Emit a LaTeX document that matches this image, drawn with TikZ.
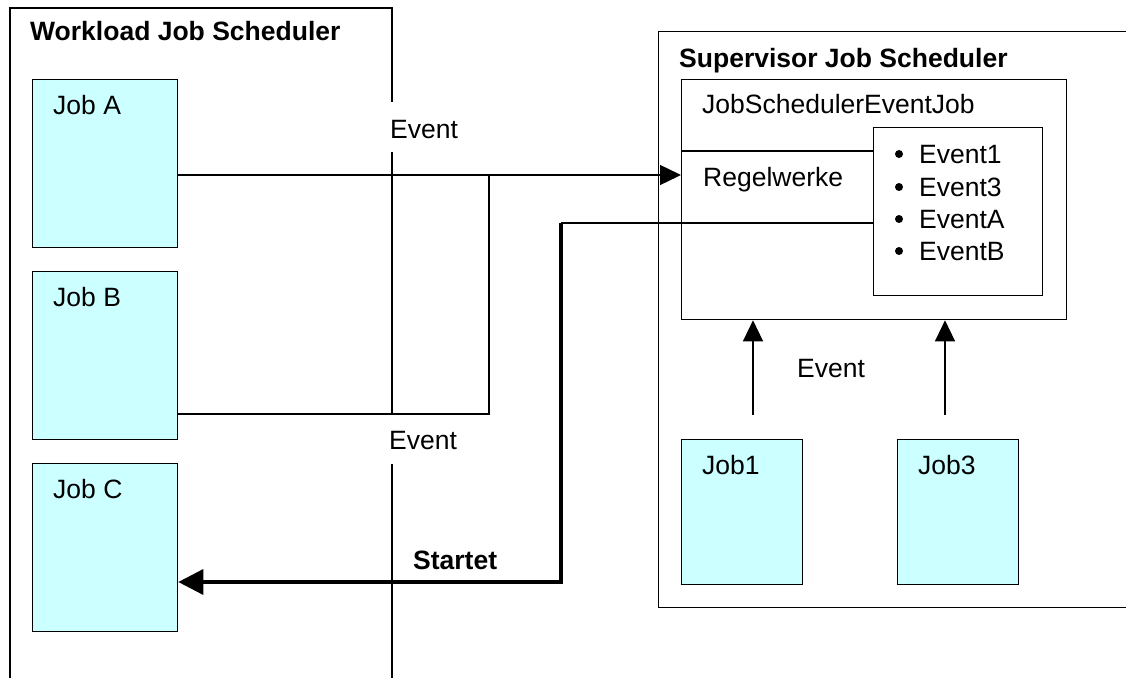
\documentclass[tikz,border=0pt]{standalone}
\usepackage{fontspec}
\setmainfont{Liberation Sans}
\usetikzlibrary{arrows.meta}
\definecolor{jobcyan}{RGB}{204,255,255}
\begin{document}
\begin{tikzpicture}[x=1pt,y=-1pt,
  every node/.style={font=\fontsize{26.5}{32}\selectfont},
  frame/.style={draw, line width=1.3pt, inner sep=0pt, anchor=north west},
  jobbox/.style={frame, fill=jobcyan},
  lbl/.style={anchor=base west, inner sep=0pt},
  heading/.style={lbl, font=\fontsize{26.5}{32}\selectfont\bfseries},
  wire/.style={line width=1.3pt},
  boldwire/.style={line width=3.5pt},
  tipsmall/.style={-{Triangle[length=21pt,width=20pt]}},
  tipbig/.style={-{Triangle[length=25pt,width=25pt]}}]

\useasboundingbox (0,0) rectangle (1126,677);
\clip (0,0) rectangle (1126,677);

% ---- Workload Job Scheduler (open at the bottom, split by the event labels)
\draw[wire] (10,690) -- (10,8) -- (392,8) -- (392,102);
\draw[wire] (392,152) -- (392,414);
\draw[wire] (392,464) -- (392,690);
\node[heading] (wtitle) at (30,41) {Workload Job Scheduler};

\node[jobbox, minimum width=145pt, minimum height=168pt] (jobA) at (32,79) {};
\node[jobbox, minimum width=145pt, minimum height=168pt] (jobB) at (32,271) {};
\node[jobbox, minimum width=145pt, minimum height=168pt] (jobC) at (32,463) {};
\node[lbl] (jobAl) at (53,114) {Job A};
\node[lbl] (jobBl) at (53,306) {Job B};
\node[lbl] (jobCl) at (53,498) {Job C};

\node[lbl] (evtop) at (390,138) {Event};
\node[lbl] (evbot) at (389,449) {Event};

% ---- Supervisor Job Scheduler
\node[frame, minimum width=480pt, minimum height=576pt] (sup) at (658,31) {};
\node[heading] (stitle) at (679,67) {Supervisor Job Scheduler};

\node[frame, minimum width=385pt, minimum height=240pt] (inner) at (681,79) {};
\node[lbl] (innerl) at (702,113) {JobSchedulerEventJob};

\node[frame, minimum width=169pt, minimum height=168pt] (events) at (873,127) {};
\foreach \n/\t/\yb in {e1/Event1/163, e3/Event3/196, eA/EventA/228, eB/EventB/260}{
  \fill (899,\yb-9) circle (4pt);
  \node[lbl] (\n) at (919,\yb) {\t};
}

\coordinate (rtop) at (681,151);
\draw[wire] (rtop) -- (events.west |- rtop);
\node[lbl] (regel) at (703,186) {Regelwerke};

\node[jobbox, minimum width=121pt, minimum height=145pt] (job1) at (681,439) {};
\node[jobbox, minimum width=121pt, minimum height=145pt] (job3) at (897,439) {};
\node[lbl] (job1l) at (702,474) {Job1};
\node[lbl] (job3l) at (918,474) {Job3};
\node[lbl] (evright) at (797,377) {Event};

% ---- connectors
\coordinate (jA) at (489,175);
\coordinate (jB) at (489,414);
\draw[wire] (jobA.east |- jA) -- (jA);
\draw[wire, tipsmall] (jA) -- (inner.west |- jA);
\draw[wire] (jobB.east |- jB) -- (jB) -- (jA);

\coordinate (u1) at (753,415);
\coordinate (u3) at (945,415);
\draw[wire, tipsmall] (u1) -- (u1 |- inner.south);
\draw[wire, tipsmall] (u3) -- (u3 |- inner.south);

\coordinate (s1) at (561,223);
\coordinate (s2) at (561,582);
\draw[wire] (events.west |- s1) -- (s1);
\draw[boldwire, tipbig] (s1) -- (s2) -- (jobC.east |- s2);
\node[heading] (startet) at (413,569) {Startet};
\end{tikzpicture}
\end{document}
